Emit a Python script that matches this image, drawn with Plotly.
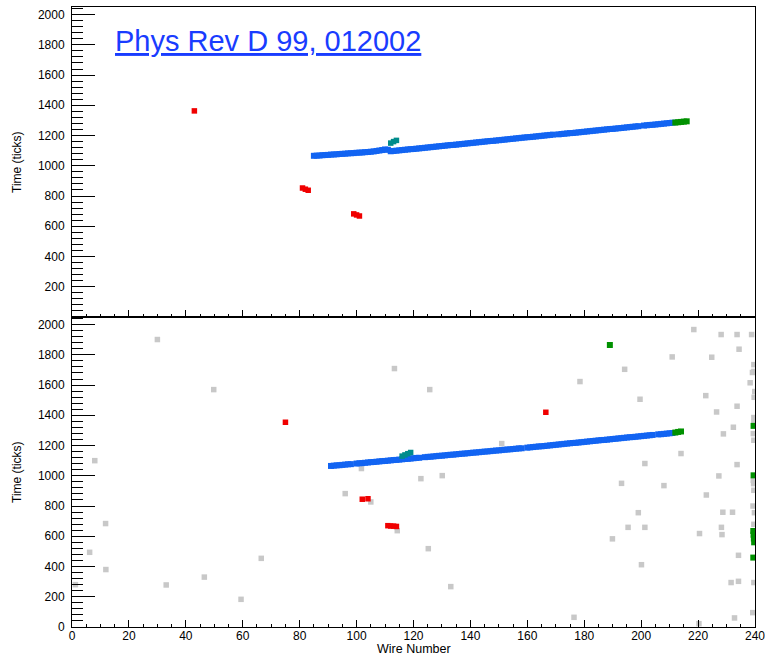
import plotly.graph_objects as go
from plotly.subplots import make_subplots

# ---------------- data: top panel (selected hits) ----------------
top_track_wire = list(range(85, 170)) + list(range(171, 200)) + list(range(201, 212))
top_track_time = [1066, 1067, 1068, 1070, 1071, 1072, 1074, 1075, 1076, 1078,
                  1079, 1080, 1082, 1083, 1084, 1086, 1087, 1088, 1090, 1091,
                  1093, 1095, 1098, 1101, 1104, 1108, 1106, 1096, 1098, 1100,
                  1102, 1104, 1106, 1108, 1110, 1111, 1113, 1115, 1117, 1119,
                  1121, 1123, 1125, 1127, 1129, 1131, 1133, 1135, 1137, 1138,
                  1140, 1142, 1144, 1146, 1148, 1150, 1152, 1154, 1156, 1158,
                  1160, 1162, 1164, 1165, 1167, 1169, 1171, 1173, 1175, 1177,
                  1179, 1181, 1183, 1185, 1187, 1189, 1190, 1192, 1194, 1196,
                  1198, 1200, 1202, 1204, 1206,
                  1208, 1210, 1212, 1214, 1216, 1217, 1219, 1221, 1223, 1225,
                  1227, 1229, 1231, 1233, 1235, 1237, 1239, 1241, 1243, 1244,
                  1246, 1248, 1250, 1252, 1254, 1256, 1258, 1260, 1262,
                  1266, 1268, 1270, 1271, 1273, 1275, 1277, 1279, 1281, 1283, 1285]
top_green_wire = [212, 213, 214, 215, 216]
top_green_time = [1286, 1288, 1290, 1292, 1294]
top_teal_wire = [112, 113, 114]
top_teal_time = [1150, 1160, 1168]
top_red_wire = [43, 81, 82, 83, 99, 100, 101]
top_red_time = [1363, 853, 845, 838, 682, 675, 668]

# ---------------- data: bottom panel (all hits) ----------------
bot_track_wire = (list(range(91, 99)) + list(range(100, 123)) + list(range(124, 159))
                  + list(range(160, 205)) + list(range(206, 212)))
bot_track_time = [1065, 1067, 1069, 1070, 1072, 1074, 1076, 1077,
                  1081, 1083, 1084, 1086, 1088, 1090, 1091, 1093, 1095, 1097,
                  1098, 1100, 1102, 1104, 1105, 1107, 1109, 1111, 1112, 1114,
                  1116, 1118, 1119,
                  1123, 1125, 1126, 1128, 1130, 1132, 1133, 1135, 1137, 1139,
                  1140, 1142, 1144, 1146, 1147, 1149, 1151, 1153, 1154, 1156,
                  1158, 1160, 1161, 1163, 1165, 1167, 1168, 1170, 1172, 1174,
                  1175, 1177, 1179, 1181, 1182,
                  1186, 1188, 1190, 1192, 1194, 1195, 1197, 1199, 1201, 1203,
                  1205, 1207, 1209, 1211, 1213, 1215, 1217, 1218, 1220, 1222,
                  1224, 1226, 1228, 1230, 1232, 1234, 1236, 1237, 1239, 1241,
                  1243, 1245, 1247, 1249, 1251, 1253, 1255, 1256, 1258, 1260,
                  1262, 1264, 1266, 1268, 1270,
                  1274, 1275, 1277, 1279, 1281, 1283]
bot_green_wire = [212, 213, 214, 189, 239.5, 239.5, 239.4, 239.5, 239.6, 239.7, 239.4]
bot_green_time = [1286, 1290, 1293, 1865, 1330, 1003, 635, 610, 585, 560, 459]
bot_teal_wire = [116, 117, 118, 119]
bot_teal_time = [1130, 1138, 1146, 1154]
bot_red_wire = [75, 102, 104, 111, 112, 113, 114, 166.5]
bot_red_time = [1354, 845, 848, 670, 668, 667, 665, 1420]
grey_wire = [1.2, 6.2, 8.0, 11.8, 11.9, 30.0, 33.1, 46.5, 49.8, 59.4, 66.5, 96.0,
             101.7, 105.0, 113.3, 114.3, 122.6, 125.2, 125.7, 130.1, 133.1, 151.0,
             176.4, 178.5, 189.9, 193.1, 194.2, 195.4, 199.0, 199.6, 200.1, 201.3,
             201.3, 208.0, 210.9, 214.0, 218.5, 220.3, 220.5, 222.7, 222.9, 224.8,
             226.5, 227.3, 228.1, 228.2, 228.4, 228.7, 228.9, 231.6, 232.1, 232.4,
             232.8, 233.7, 233.7, 233.7, 234.2, 234.2, 234.4, 238.3, 238.8, 239.1,
             239.2, 239.3, 239.4, 239.4, 239.5, 239.7, 239.8, 239.9, 239.6, 239.6,
             239.6, 239.6, 239.6, 239.6, 239.6, 239.6]
grey_time = [280, 494, 1100, 684, 380, 1901, 278, 330, 1570, 183, 454, 882,
             1048, 827, 1709, 637, 981, 518, 1570, 1001, 267, 1213,
             64, 1623, 583, 950, 1704, 659, 756, 1506, 412, 1081,
             659, 935, 1786, 1147, 1967, 22, 618, 1530, 873, 1784,
             1422, 999, 1934, 659, 611, 759, 1277, 294, 759, 1321,
             60, 1934, 1460, 1074, 474, 302, 1837, 1615, 1934, 1683,
             95, 800, 970, 1279, 948, 1519, 756, 1557, 1735, 1690,
             1385, 1356, 1235, 904, 679, 294]

x_tickvals = [0, 20, 40, 60, 80, 100, 120, 140, 160, 180, 200, 220, 240]
y_tickvals_top = [0, 200, 400, 600, 800, 1000, 1200, 1400, 1600, 1800, 2000]
y_ticktext_top = [""] + [str(v) for v in y_tickvals_top[1:]]
y_tickvals_bot = [0, 200, 400, 600, 800, 1000, 1200, 1400, 1600, 1800, 2000]

BLUE = "rgb(18,100,242)"
RED = "rgb(240,0,0)"
GREEN = "rgb(0,145,0)"
TEAL = "rgb(0,140,140)"
GREY = "rgb(200,200,200)"

fig = make_subplots(rows=2, cols=1, shared_xaxes=True, vertical_spacing=0)


def add(x, y, color, row, size=5.5):
    fig.add_trace(go.Scatter(x=x, y=y, mode="markers",
                             marker=dict(symbol="square", size=size, color=color,
                                         line=dict(width=0)),
                             showlegend=False, hoverinfo="skip"), row=row, col=1)


add(top_red_wire, top_red_time, RED, 1)
add(top_track_wire, top_track_time, BLUE, 1, 6)
add(top_teal_wire, top_teal_time, TEAL, 1)
add(top_green_wire, top_green_time, GREEN, 1, 6)

add(grey_wire, grey_time, GREY, 2)
add(bot_red_wire, bot_red_time, RED, 2)
add(bot_track_wire, bot_track_time, BLUE, 2, 6)
add(bot_teal_wire, bot_teal_time, TEAL, 2)
add(bot_green_wire, bot_green_time, GREEN, 2, 6)

FONT = "Liberation Sans, Arial, Helvetica, sans-serif"
axis_common = dict(showline=True, linecolor="black", linewidth=1, mirror=True,
                   showgrid=False, zeroline=False, ticks="inside", tickcolor="black",
                   ticklabeloverflow="allow", automargin=False,
                   tickfont=dict(family=FONT, size=12, color="black"))

for r in (1, 2):
    fig.update_xaxes(range=[0, 240], tickvals=x_tickvals, ticklen=7, tickwidth=1,
                     minor=dict(ticks="inside", dtick=5, ticklen=3.5, tickcolor="black",
                                showgrid=False),
                     showticklabels=(r == 2), ticklabelstandoff=-2,
                     **axis_common, row=r, col=1)
    fig.update_yaxes(range=[0, 2050], ticklen=23, tickwidth=1,
                     minor=dict(ticks="inside", dtick=40, ticklen=11, tickcolor="black",
                                showgrid=False),
                     ticklabelstandoff=4,
                     **axis_common, row=r, col=1)

fig.update_yaxes(tickvals=y_tickvals_top, ticktext=y_ticktext_top, row=1, col=1)
fig.update_yaxes(tickvals=y_tickvals_bot, row=2, col=1)

fig.update_layout(
    width=765, height=655,
    margin=dict(l=72, r=10, t=7, b=28, autoexpand=False),
    paper_bgcolor="white", plot_bgcolor="white",
    annotations=[
        dict(text="<u>Phys Rev D 99, 012002</u>", xref="paper", yref="paper",
             x=(113 - 72) / 683, y=1 - (41 - 7) / 620, xanchor="left", yanchor="middle",
             showarrow=False, font=dict(family=FONT, size=29, color="rgb(25,60,255)")),
        dict(text="Time (ticks)", xref="paper", yref="paper", textangle=-90,
             x=(17 - 72) / 683, y=0.75, xanchor="center", yanchor="middle",
             showarrow=False, font=dict(family=FONT, size=12, color="black")),
        dict(text="Time (ticks)", xref="paper", yref="paper", textangle=-90,
             x=(17 - 72) / 683, y=0.25, xanchor="center", yanchor="middle",
             showarrow=False, font=dict(family=FONT, size=12, color="black")),
        dict(text="Wire Number", xref="paper", yref="paper",
             x=0.5, y=-(649 - 627) / 620, xanchor="center", yanchor="middle",
             showarrow=False, font=dict(family=FONT, size=12.5, color="black")),
    ],
)

fig.write_html("out.html", config={"displayModeBar": False},
               post_script="document.body.style.margin='0px';document.body.style.padding='0px';")
